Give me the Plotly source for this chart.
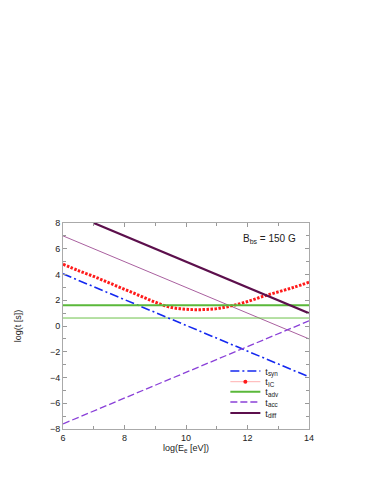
import plotly.graph_objects as go

# log(E_e [eV]) grid used for the straight-line timescales
x_ends = [6, 14]

t_syn = [4.05, -3.95]
t_acc = [-7.6, 0.4]
t_adv_1 = [1.62, 1.62]
t_adv_2 = [0.62, 0.62]
t_diff_1 = [7.0, -1.0]
t_diff_2_x = [7, 14]
t_diff_2 = [8.0, 1.0]

# inverse Compton curve
ic_x = [6, 6.5, 7, 7.5, 8, 8.5, 9, 9.5, 10, 10.5, 11, 11.5, 12, 12.5, 13, 13.5, 14]
ic_y = [4.8, 4.3, 3.85, 3.35, 2.85, 2.35, 1.85, 1.45, 1.3, 1.27, 1.35, 1.58, 1.9, 2.3, 2.65, 3.0, 3.4]

FONT = "Liberation Sans, Arial, sans-serif"

fig = go.Figure()

# unlabeled lines first
fig.add_trace(go.Scatter(x=x_ends, y=t_diff_1, mode="lines", showlegend=False,
                         line=dict(color="#a9609f", width=1)))
fig.add_trace(go.Scatter(x=x_ends, y=t_adv_2, mode="lines", showlegend=False,
                         line=dict(color="#6cc24a", width=1)))
fig.add_trace(go.Scatter(x=ic_x, y=ic_y, mode="lines", showlegend=False,
                         line=dict(color="#ff1a1a", width=3, shape="spline", dash="2.5px,1.5px")))

# one small legend per entry so the rows can sit close together
fig.add_trace(go.Scatter(x=x_ends, y=t_syn, mode="lines", name="t<sub>syn</sub>", legend="legend",
                         line=dict(color="#1428f0", width=1.6, dash="9px,3px,2px,3px")))
fig.add_trace(go.Scatter(x=[None], y=[None], mode="lines+markers", name="t<sub>IC</sub>", legend="legend2",
                         line=dict(color="#ffb0b0", width=1),
                         marker=dict(color="#ff1a1a", size=4)))
fig.add_trace(go.Scatter(x=x_ends, y=t_adv_1, mode="lines", name="t<sub>adv</sub>", legend="legend3",
                         line=dict(color="#5ab83a", width=2)))
fig.add_trace(go.Scatter(x=x_ends, y=t_acc, mode="lines", name="t<sub>acc</sub>", legend="legend4",
                         line=dict(color="#8a40d8", width=1.3, dash="7px,3px")))
fig.add_trace(go.Scatter(x=t_diff_2_x, y=t_diff_2, mode="lines", name="t<sub>diff</sub>", legend="legend5",
                         line=dict(color="#5c0f4c", width=2.2)))

fig.add_annotation(text="B<sub>bs</sub> = 150 G", x=0.955, y=0.92, xref="paper", yref="paper",
                   xanchor="right", yanchor="middle", showarrow=False,
                   font=dict(family=FONT, size=10, color="#222"))

axis_common = dict(showgrid=False, zeroline=False, ticks="inside", ticklen=4,
                   tickcolor="#999", linecolor="#aaa", linewidth=1, mirror="ticks",
                   showline=True, automargin=False,
                   tickfont=dict(family=FONT, size=9, color="#222"),
                   minor=dict(ticks="inside", ticklen=3, tickcolor="#999", dtick=1))

fig.update_xaxes(range=[6, 14], dtick=2, title=dict(text="log(E<sub>e</sub> [eV])",
                 font=dict(family=FONT, size=9, color="#222"), standoff=2), **axis_common)
fig.update_yaxes(range=[-8, 8], dtick=2, title=dict(text="log(t [s])",
                 font=dict(family=FONT, size=9, color="#222"), standoff=26), **axis_common)

legend_rows = [0.2816, 0.2296, 0.1811, 0.1311, 0.0777]
legend_style = dict(x=0.66, xanchor="left", yanchor="middle", bgcolor="rgba(0,0,0,0)",
                    font=dict(family=FONT, size=9, color="#222"), itemwidth=30)

fig.update_layout(
    width=374, height=484,
    margin=dict(l=55, r=73, t=215, b=63),
    paper_bgcolor="white", plot_bgcolor="white",
    showlegend=True,
    legend=dict(y=legend_rows[0], **legend_style),
    legend2=dict(y=legend_rows[1], **legend_style),
    legend3=dict(y=legend_rows[2], **legend_style),
    legend4=dict(y=legend_rows[3], **legend_style),
    legend5=dict(y=legend_rows[4], **legend_style),
)

fig.write_html("out.html")
